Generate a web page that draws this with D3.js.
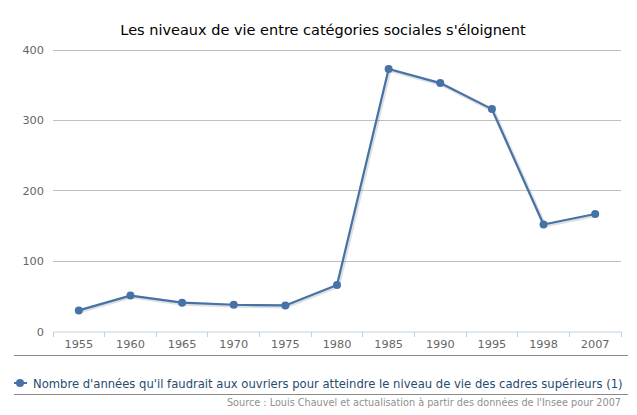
<!DOCTYPE html>
<html><head><meta charset="utf-8">
<script src="https://cdn.jsdelivr.net/npm/d3@7"></script>
<style>
body{margin:0;background:#fff;}
text{font-family:"DejaVu Sans",sans-serif;}
</style></head>
<body><svg id="c" width="637" height="415"></svg>
<script>
const categories = ["1955","1960","1965","1970","1975","1980","1985","1990","1995","1998","2007"];
const values = [30, 51, 41, 38, 37, 66, 373, 353, 316, 152, 167];
const yTicks = [0, 100, 200, 300, 400];
const title = "Les niveaux de vie entre catégories sociales s'éloignent";
const seriesName = "Nombre d'années qu'il faudrait aux ouvriers pour atteindre le niveau de vie des cadres supérieurs (1)";
const source = "Source : Louis Chauvel et actualisation à partir des données de l'Insee pour 2007";

const svg = d3.select("#c");
const L = 53, R = 621, T = 50, B = 331.5;
const x = d3.scaleBand().domain(categories).range([L, R]);
const y = d3.scaleLinear().domain([0, 400]).range([B, T]);
const color = "#4572A7";

svg.append("text").attr("x", 323).attr("y", 35).attr("text-anchor", "middle")
  .style("font-size", "14.5px").attr("fill", "#000").text(title);

// grid
const g = svg.append("g");
g.selectAll("line.grid").data(yTicks.filter(d => d > 0)).join("line")
  .attr("x1", L).attr("x2", R).attr("y1", d => y(d)).attr("y2", d => y(d))
  .attr("stroke", "#C0C0C0").attr("stroke-width", 1).attr("shape-rendering", "crispEdges");

// y labels
g.selectAll("text.yl").data(yTicks).join("text")
  .attr("x", 44).attr("y", d => y(d) + 4).attr("text-anchor", "end")
  .style("font-size", "11.3px").attr("fill", "#666").text(d => d);

// x axis
const xAxis = d3.axisBottom(x).tickSize(0).tickPadding(8);
const xa = svg.append("g").attr("transform", `translate(0,${B})`).call(xAxis);
xa.select(".domain").attr("stroke", "#C0D0E0");
xa.selectAll("text").style("font-size", "11.3px").attr("fill", "#666").attr("font-family", "DejaVu Sans");
const bounds = categories.map(c => x(c)).concat([R]);
xa.selectAll("line.tk").data(bounds).join("line").attr("class", "tk")
  .attr("x1", d => d).attr("x2", d => d).attr("y1", 0).attr("y2", 5)
  .attr("stroke", "#C0D0E0").attr("shape-rendering", "crispEdges");

// line
const cx = d => x(d) + x.bandwidth() / 2;
const line = d3.line().x((d, i) => cx(categories[i])).y(d => y(d));
svg.append("path").datum(values).attr("d", line).attr("fill", "none")
  .attr("stroke", "rgba(0,0,0,0.12)").attr("stroke-width", 4).attr("transform", "translate(1,1)");
svg.append("path").datum(values).attr("d", line).attr("fill", "none")
  .attr("stroke", color).attr("stroke-width", 2.2).attr("stroke-linejoin", "round");
svg.selectAll("circle.pt").data(values).join("circle")
  .attr("cx", (d, i) => cx(categories[i])).attr("cy", d => y(d)).attr("r", 4).attr("fill", color);

// separators
svg.append("line").attr("x1", 14).attr("x2", 628).attr("y1", 355.5).attr("y2", 355.5)
  .attr("stroke", "#8a8a8a").attr("stroke-width", 1);
svg.append("line").attr("x1", 14).attr("x2", 628).attr("y1", 394.5).attr("y2", 394.5)
  .attr("stroke", "#8a8a8a").attr("stroke-width", 1);

// legend
svg.append("line").attr("x1", 14).attr("x2", 27).attr("y1", 383).attr("y2", 383)
  .attr("stroke", color).attr("stroke-width", 2);
svg.append("circle").attr("cx", 20).attr("cy", 383).attr("r", 4).attr("fill", color);
svg.append("text").attr("x", 33).attr("y", 387.5).style("font-size", "11.6px")
  .attr("fill", "#274b6d").text(seriesName);

svg.append("text").attr("x", 621).attr("y", 406).attr("text-anchor", "end")
  .style("font-size", "9.7px").attr("fill", "#909090").text(source);
</script></body></html>
